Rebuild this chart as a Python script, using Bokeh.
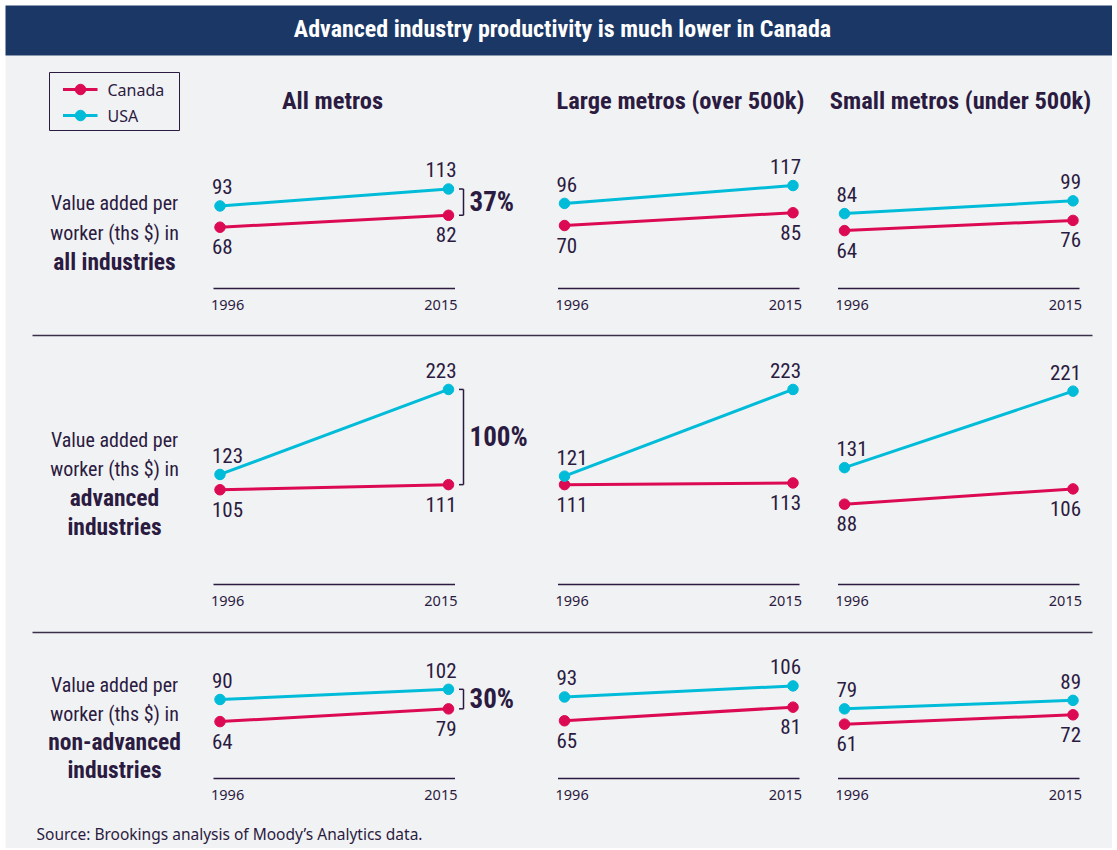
from bokeh.plotting import figure
from bokeh.models import Range1d, ColumnDataSource
from bokeh.core.properties import value
from bokeh.embed import file_html
from bokeh.resources import INLINE

# ---------------- data ----------------
years = [1996, 2015]
series_names = ["Canada", "USA"]
groups = ["All metros", "Large metros (over 500k)", "Small metros (under 500k)"]
row_label_plain = ["Value added per", "worker (ths $) in"]
row_label_bold = [["all industries"], ["advanced", "industries"], ["non-advanced", "industries"]]

# one [1996, 2015] pair per metro group: all, large, small
canada_all_ind = [[68, 82], [70, 85], [64, 76]]
usa_all_ind = [[93, 113], [96, 117], [84, 99]]
canada_adv_ind = [[105, 111], [111, 113], [88, 106]]
usa_adv_ind = [[123, 223], [121, 223], [131, 221]]
canada_non_ind = [[64, 79], [65, 81], [61, 72]]
usa_non_ind = [[90, 102], [93, 106], [79, 89]]
gap_labels = ["37%", "100%", "30%"]

title_text = "Advanced industry productivity is much lower in Canada"
source_text = "Source: Brookings analysis of Moody\u2019s Analytics data."

canada_rows = [canada_all_ind, canada_adv_ind, canada_non_ind]
usa_rows = [usa_all_ind, usa_adv_ind, usa_non_ind]

# ---------------- style / layout ----------------
BG = "#f1f2f4"
NAVY = "#1b3766"
INK = "#2b1b41"
C_CAN = "#dc0a52"
C_USA = "#00bcd9"
COND = value("Roboto Condensed, DejaVu Sans Condensed, Liberation Sans Narrow, Roboto")
SANS = value("Noto Sans")

W, H = 1112, 848
COL_X0 = [219.5, 564.0, 844.0]     # screen x of the 1996 point in each column
COL_SPAN = 228.5                   # screen px from 1996 to 2015
ROW_ZERO = [284.5, 578.5, 775.5]   # screen y of value 0 in each row
PX_PER_UNIT = 0.85
AXIS_Y = [288.0, 584.0, 778.0]

p = figure(width=W, height=H, output_backend="svg", toolbar_location=None,
           x_range=Range1d(0, W), y_range=Range1d(H, 0),
           x_axis_location=None, y_axis_location=None, min_border=0,
           background_fill_color="white", border_fill_color="white",
           outline_line_color=None)
p.grid.visible = False

span_years = years[1] - years[0]
xr, yr = {}, {}
for c, x0 in enumerate(COL_X0):
    xr[f"yr{c}"] = Range1d(years[0] + (0 - x0) * span_years / COL_SPAN,
                           years[0] + (W - x0) * span_years / COL_SPAN)
for r, z in enumerate(ROW_ZERO):
    yr[f"val{r}"] = Range1d((z - H) / PX_PER_UNIT, z / PX_PER_UNIT)
p.extra_x_ranges = xr
p.extra_y_ranges = yr

# panel background + title bar
p.quad(left=[5], right=[W], top=[55], bottom=[H], fill_color=BG, line_color=None)
p.quad(left=[5], right=[W], top=[5], bottom=[55], fill_color=NAVY, line_color=None)
p.text(x=[562], y=[28], text=[title_text], text_color="white", text_font=COND,
       text_font_style="bold", text_font_size="24px", text_align="center",
       text_baseline="middle")

# legend
p.quad(left=[49], right=[179], top=[72], bottom=[130], fill_color=None,
       line_color=INK, line_width=1)
for name, col, ly in zip(series_names, [C_CAN, C_USA], [89, 115]):
    p.segment(x0=[62.5], x1=[97], y0=[ly], y1=[ly], line_color=col, line_width=3)
    p.scatter(x=[80], y=[ly], size=10.5, fill_color=col, line_color=col)
    p.text(x=[107], y=[ly], text=[name], text_font=SANS, text_font_size="16px",
           text_color=INK, text_baseline="middle", text_align="left")

# column headers
for g, cx in zip(groups, [332, 680, 960]):
    p.text(x=[cx], y=[100], text=[g], text_font=COND, text_font_style="bold",
           text_font_size="24.5px", text_color=INK, text_align="center",
           text_baseline="middle")

# row labels
row_centers = [[202, 232, 261], [439, 468, 497, 526], [684, 713, 741, 769]]
for r in range(3):
    lines = row_label_plain + row_label_bold[r]
    for i, (t, cy) in enumerate(zip(lines, row_centers[r])):
        bold = i >= len(row_label_plain)
        p.text(x=[114], y=[cy], text=[t], text_font=COND,
               text_font_style="bold" if bold else "normal",
               text_font_size="23.5px" if bold else "20px", text_color=INK,
               text_align="center", text_baseline="middle")

# separators
for sy in [335, 632]:
    p.segment(x0=[32], x1=[1092], y0=[sy], y1=[sy], line_color="#3a3148", line_width=1.5)

# panels
for r in range(3):
    vname = f"val{r}"
    for c in range(3):
        xname = f"yr{c}"
        x0 = COL_X0[c]
        # axis line + year labels
        p.segment(x0=[x0 - 6.5], x1=[x0 + COL_SPAN + 6.5], y0=[AXIS_Y[r]], y1=[AXIS_Y[r]],
                  line_color=INK, line_width=1.5)
        for yv, off, al in zip(years, [-9, 9], ["left", "right"]):
            p.text(x=[yv], y=[AXIS_Y[r] + 16.5], text=[str(yv)], x_range_name=xname,
                   x_offset=off, text_font=SANS, text_font_size="14.5px", text_color=INK,
                   text_align=al, text_baseline="middle")
        for vals, col, yoff in [(canada_rows[r][c], C_CAN, 19.5), (usa_rows[r][c], C_USA, -19)]:
            src = ColumnDataSource(dict(x=years, y=vals))
            p.line("x", "y", source=src, x_range_name=xname, y_range_name=vname,
                   line_color=col, line_width=3)
            p.scatter("x", "y", source=src, x_range_name=xname, y_range_name=vname,
                      size=10.5, fill_color=col, line_color=col)
            for yv, v, off, al in zip(years, vals, [-8, 8], ["left", "right"]):
                p.text(x=[yv], y=[v], text=[str(v)], x_range_name=xname, y_range_name=vname,
                       x_offset=off, y_offset=yoff, text_font=COND, text_font_size="21px",
                       text_color=INK, text_align=al, text_baseline="middle")
    # gap bracket in the "All metros" column
    top_v = usa_rows[r][0][1]
    bot_v = canada_rows[r][0][1]
    p.segment(x0=[463, 458.5, 458.5], x1=[463, 463, 463], y0=[top_v, top_v, bot_v],
              y1=[bot_v, top_v, bot_v], y_range_name=vname, line_color=INK, line_width=1.5)
    p.text(x=[469], y=[(top_v + bot_v) / 2], text=[gap_labels[r]], y_range_name=vname,
           text_font=COND, text_font_style="bold", text_font_size="27px",
           text_color=INK, text_align="left", text_baseline="middle")

# source
p.text(x=[36], y=[833.5], text=[source_text], text_font=SANS, text_font_size="15.5px",
       text_color=INK, text_align="left", text_baseline="middle")

open("out.html", "w").write(file_html(p, INLINE))
